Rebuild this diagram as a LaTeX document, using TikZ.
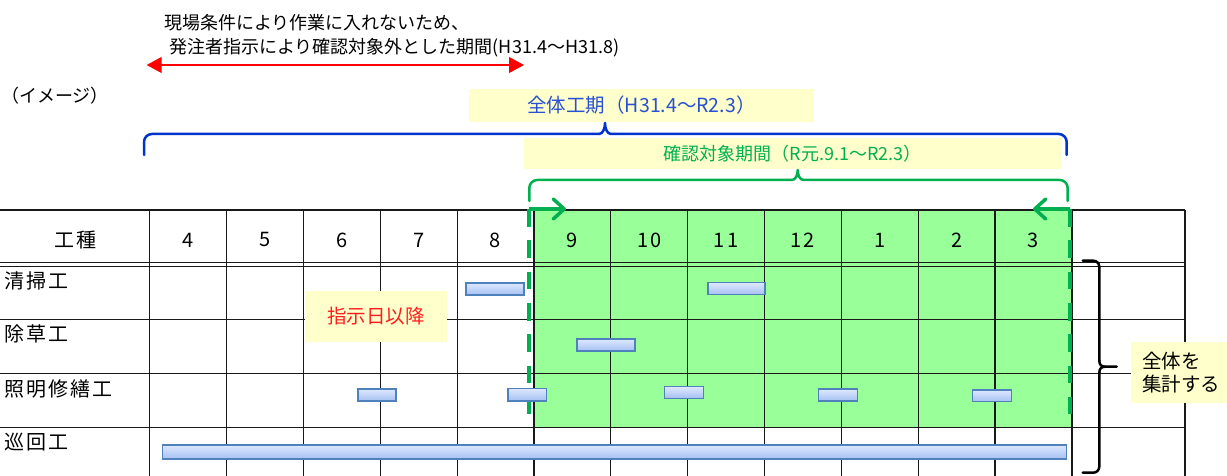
\documentclass[tikz,border=0pt]{standalone}
\usepackage{fontspec}
\setmainfont{Noto Sans CJK JP}
\newfontfamily\gothfont[LetterSpace=10]{Noto Sans CJK JP}
\usepackage{xcolor}
\usepackage{tikz}
\usetikzlibrary{arrows.meta, positioning, calc}
\definecolor{targetgreen}{RGB}{153,255,153}
\definecolor{markgreen}{RGB}{0,176,80}
\definecolor{bracecolor}{RGB}{0,51,204}
\definecolor{bluetext}{RGB}{40,80,210}
\definecolor{notecolor}{RGB}{255,255,204}
\definecolor{barfill}{RGB}{165,192,242}
\definecolor{bartop}{RGB}{222,232,255}
\definecolor{barline}{RGB}{79,129,189}
\definecolor{notered}{RGB}{255,30,30}

\begin{document}
\begin{tikzpicture}[
    x=1pt, y=-1pt,
    tableline/.style={draw=black!90, line width=1.2pt},
    notebox/.style={fill=notecolor, inner sep=0pt},
    workbar/.style={draw=barline, line width=1.3pt, top color=bartop, bottom color=barfill},
    tabletext/.style={font=\gothfont\fontsize{20}{24}\selectfont, inner sep=0pt},
    toptext/.style={font=\fontsize{18}{22}\selectfont, inner sep=0pt, anchor=west},
    brace/.style={line width=2.5pt, line cap=round, line join=round}
]
    \useasboundingbox (0,0) rectangle (1227,476);

    % target period
    \fill[targetgreen] (533.95,210) rectangle (1071.9,427.7);

    % table
    \foreach \y in {210,262.7,266.7,319.3,373.3,427.7}
        \draw[tableline] (0,\y) -- (1185,\y);
    \foreach \i in {0,...,12}
        \draw[tableline] ({149.7+76.85*\i},210) -- ({149.7+76.85*\i},476);
    \draw[tableline] (1185,210) -- (1185,476);

    \node[tabletext] (kind) at (75,240) {工種};
    \foreach \m [count=\i] in {4,5,6,7,8,9,10,11,12,1,2,3}
        \node[tabletext] (month\i) at ({149.7+76.85*(\i-0.5)},240) {\m};
    \foreach \t/\y [count=\i] in {清掃工/281,除草工/334,照明修繕工/389,巡回工/442.5}
        \node[tabletext, anchor=west] (work\i) at (4,\y) {\t};

    % dashed limits and arrows
    \coordinate (limitl) at (529.3,209);
    \coordinate (limitr) at (1070,209);
    \draw[markgreen, line width=4pt, dash pattern=on 17.7pt off 13.6pt] (limitl) -- (529.3,414);
    \draw[markgreen, line width=4pt, dash pattern=on 17.7pt off 13.6pt] (limitr) -- (1070,414);
    \draw[markgreen, line width=3.5pt, -{Straight Barb[length=11pt,width=20pt,round]}] (limitl) -- (566,209);
    \draw[markgreen, line width=3.5pt, -{Straight Barb[length=11pt,width=20pt,round]}] (limitr) -- (1033,209);

    % bars
    \draw[workbar] (466,283) rectangle (524,295);
    \draw[workbar] (708,282.5) rectangle (765,294.7);
    \draw[workbar] (577,339) rectangle (635,351);
    \draw[workbar] (358,389) rectangle (396,401);
    \draw[workbar] (508,388.3) rectangle (546.7,401);
    \draw[workbar] (664.3,386.7) rectangle (703.3,398.3);
    \draw[workbar] (818.3,389) rectangle (857.3,401);
    \draw[workbar] (972.7,390) rectangle (1011.7,401.7);
    \draw[workbar] (162.7,445) rectangle (1066.7,459);

    % notes
    \node[notebox, minimum width=141.5pt, minimum height=50.7pt, text=notered,
          font=\fontsize{19.5}{23}\selectfont] (after) at (376,316.4) {指示日以降};
    \node[notebox, anchor=north west, minimum height=61pt, text width=78pt,
          inner xsep=11pt, align=left, font=\fontsize{19.5}{23.5}\selectfont] (total) at (1131,341.7) {全体を\\集計する};

    \node[toptext] (reason1) at (164,23) {現場条件により作業に入れないため、};
    \node[toptext] (reason2) at (169,48) {発注者指示により確認対象外とした期間(H31.4～H31.8)};
    \coordinate (redl) at (146.7,65);
    \coordinate (redr) at (524,65);
    \draw[red, line width=1.2pt, {Triangle[length=15pt,width=16pt]}-{Triangle[length=15pt,width=16pt]}] (redl) -- (redr);

    \node[toptext, font=\fontsize{18}{22}\selectfont] (image) at (1,96) {（イメージ）};

    % whole period
    \node[notebox, minimum width=345pt, minimum height=33pt, text=bluetext,
          font=\fontsize{19.5}{23}\selectfont] (whole) at (641.5,105.5) {全体工期（H31.4～R2.3）};
    \draw[bracecolor, brace, rounded corners=8pt] (144,155) -- (144,134) -- (599,134);
    \draw[bracecolor, brace] (599,134) .. controls (603,134) and (605,128) .. (605,123)
        .. controls (605,128) and (607,134) .. (611,134);
    \draw[bracecolor, brace, rounded corners=8pt] (611,134) -- (1066.7,134) -- (1066.7,155);

    % target period
    \node[notebox, minimum width=537pt, minimum height=31pt, text=markgreen,
          font=\fontsize{18}{22}\selectfont] (target) at (792.5,153.5) {確認対象期間（R元.9.1～R2.3）};
    \draw[markgreen, brace, rounded corners=8pt] (529.3,201) -- (529.3,180) -- (791.7,180);
    \draw[markgreen, brace] (791.7,180) .. controls (795.7,180) and (797.7,175) .. (797.7,170)
        .. controls (797.7,175) and (799.7,180) .. (803.7,180);
    \draw[markgreen, brace, rounded corners=8pt] (803.7,180) -- (1067.7,180) -- (1067.7,201);

    % sum brace
    \draw[black, brace, rounded corners=6pt] (1082.7,260.7) -- (1099.3,260.7) -- (1099.3,360.7);
    \draw[black, brace] (1099.3,360.7) .. controls (1099.3,364.7) and (1101.3,366.7) .. (1105.3,366.7)
        -- (1116.7,366.7);
    \draw[black, brace] (1105.3,366.7) .. controls (1101.3,366.7) and (1099.3,368.7) .. (1099.3,372.7);
    \draw[black, brace, rounded corners=6pt] (1099.3,372.7) -- (1099.3,472.7) -- (1082.7,472.7);
\end{tikzpicture}
\end{document}
